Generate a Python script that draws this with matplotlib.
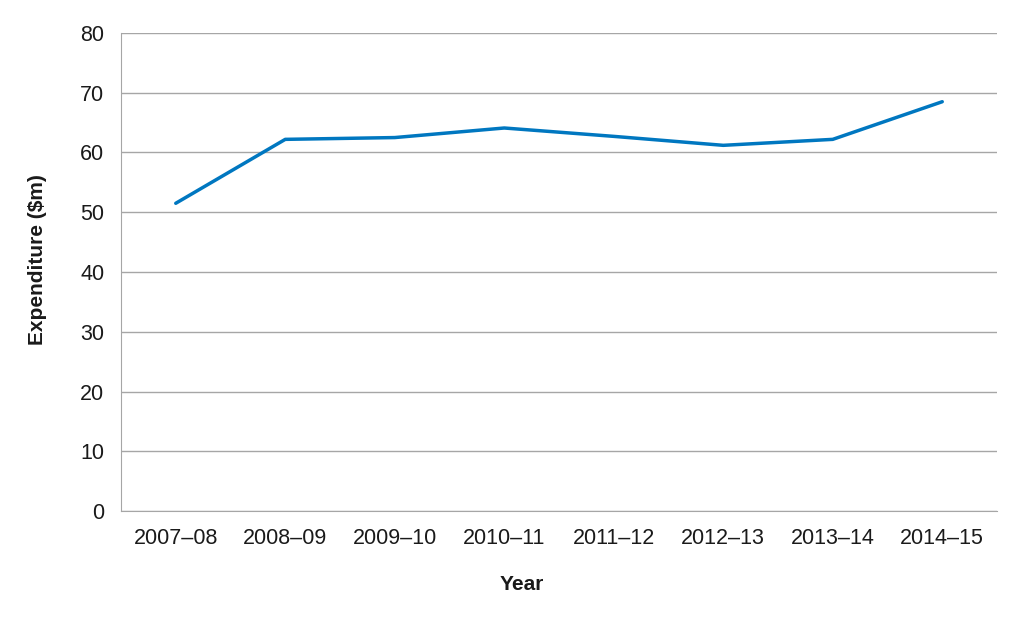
import matplotlib.pyplot as plt

years = ['2007–08', '2008–09', '2009–10', '2010–11', '2011–12', '2012–13', '2013–14', '2014–15']
expenditure = [51.5, 62.2, 62.5, 64.1, 62.7, 61.2, 62.2, 68.5]

plt.rcParams['font.family'] = ['Liberation Sans', 'DejaVu Sans']

fig = plt.figure(figsize=(10.26, 6.17), dpi=100)
ax = fig.add_axes([121/1026, 1 - 511/617, 876/1026, 478/617])

ax.plot(range(len(years)), expenditure, color='#0077C0', linewidth=2.5, solid_capstyle='round')

ax.set_xlim(-0.5, len(years) - 0.5)
ax.set_ylim(0, 80)
ax.set_yticks(range(0, 81, 10))
ax.set_xticks(range(len(years)))
ax.set_xticklabels(years)
ax.yaxis.grid(True, color='#a6a6a6', linewidth=1)
ax.set_axisbelow(True)
for s in ['top', 'right']:
    ax.spines[s].set_visible(False)
ax.spines['left'].set_color('#a6a6a6')
ax.spines['bottom'].set_color('#a6a6a6')
ax.tick_params(length=0, labelsize=15.5, colors='#1a1a1a', pad=12)
ax.tick_params(axis='y', pad=12)

ax.set_xlabel('Year', fontsize=15, fontweight='bold', color='#1a1a1a', va='center')
ax.xaxis.set_label_coords((522 - 121) / 876, (511 - 584) / 478)
ax.set_ylabel('Expenditure ($m)', fontsize=15, fontweight='bold', color='#1a1a1a', va='center')
ax.yaxis.set_label_coords((38 - 121) / 876, (511 - 260) / 478)

fig.savefig('out.png', dpi=100)
